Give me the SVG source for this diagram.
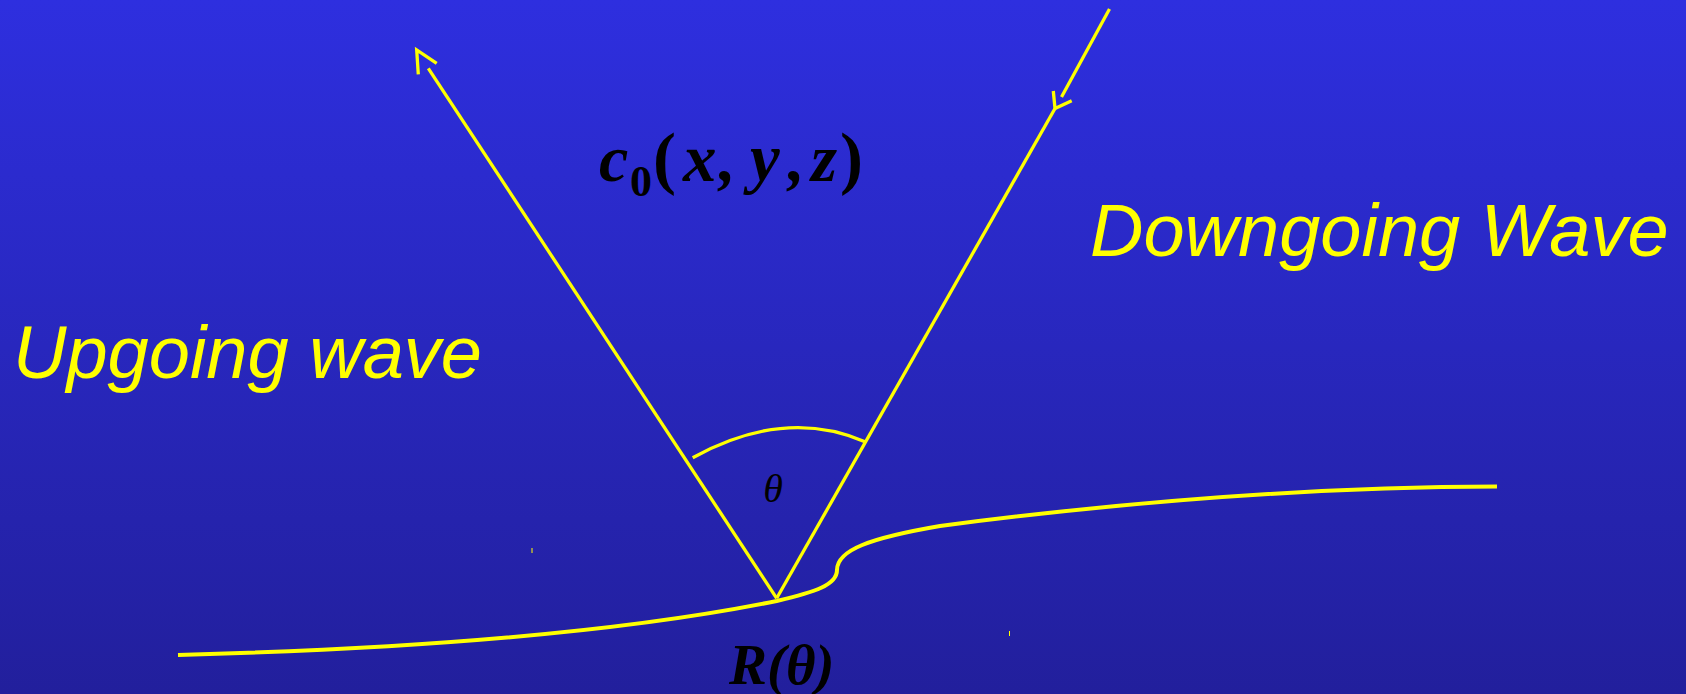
<svg xmlns="http://www.w3.org/2000/svg" width="1686" height="694" viewBox="0 0 1686 694">
  <defs>
    <linearGradient id="bg" x1="0" y1="0" x2="0" y2="1">
      <stop offset="0" stop-color="#2E2FDF"/>
      <stop offset="1" stop-color="#221F9C"/>
    </linearGradient>
    <style>
      .ray { fill: none; stroke: #FFFF00; stroke-width: 3.3; stroke-linecap: butt; }
      .head { fill: none; stroke: #FFFF00; stroke-width: 3.3; stroke-linecap: butt; stroke-linejoin: miter; }
      .surf { fill: none; stroke: #FFFF00; stroke-width: 4; stroke-linecap: butt; }
      .lbl { font-family: "Liberation Sans", Arial, sans-serif; font-style: italic; font-size: 74px; fill: #FFFF00; }
      .math { font-family: "Liberation Serif", "Times New Roman", serif; fill: #000000; }
    </style>
  </defs>
  <rect x="0" y="0" width="1686" height="694" fill="url(#bg)"/>

  <g id="connectors">
    <!-- upgoing ray -->
    <line class="ray" x1="776.7" y1="598.3" x2="428.3" y2="68.3"/>
    <polyline class="head" points="418.3,74.3 416.7,50 436.7,63.3"/>
    <!-- downgoing ray -->
    <line class="ray" x1="1109.5" y1="9" x2="1061.5" y2="97"/>
    <polyline class="head" points="1053.3,91 1055,108.5 1071.7,100.7"/>
    <line class="ray" x1="1055" y1="108.5" x2="776.7" y2="598.3"/>
    <!-- angle arc -->
    <path class="ray" d="M 692.7 457.7 Q 785 407 865 441.7"/>
  </g>

  <g id="reflector">
    <path class="surf" d="M 178 655 Q 560 645 776.7 601 C 815 592 837 585 837 570 C 837 550 870 538 940 526 C 1100 505 1300 487 1497 486.5"/>
  </g>

  <g id="ticks">
    <line x1="532" y1="548" x2="532" y2="553" stroke="#FFFF00" stroke-width="1"/>
    <line x1="1009.5" y1="631" x2="1009.5" y2="636" stroke="#FFFF00" stroke-width="1"/>
  </g>

  <g id="upgoing-label">
    <text class="lbl" x="13" y="378">Upgoing wave</text>
  </g>

  <g id="downgoing-label">
    <text class="lbl" x="1090" y="256">Downgoing Wave</text>
  </g>

  <g id="velocity-label">
    <text class="math" y="181" font-size="66" font-weight="bold" font-style="italic">
      <tspan x="599">c</tspan>
    </text>
    <text class="math" x="630" y="196" font-size="44" font-weight="bold">0</text>
    <text class="math" y="181" font-size="69" font-weight="bold">
      <tspan x="653">(</tspan>
    </text>
    <text class="math" y="181" font-size="67" font-weight="bold" font-style="italic">
      <tspan x="683">x</tspan><tspan x="719">,</tspan><tspan x="750">y</tspan><tspan x="788">,</tspan><tspan x="811">z</tspan>
    </text>
    <text class="math" y="181" font-size="69" font-weight="bold">
      <tspan x="840">)</tspan>
    </text>
  </g>

  <g id="angle-label">
    <text class="math" x="773" y="502" font-size="40" font-style="italic" text-anchor="middle">θ</text>
  </g>

  <g id="reflection-label">
    <text class="math" x="729" y="684" font-size="57" font-weight="bold" font-style="italic">R(θ)</text>
  </g>
</svg>
